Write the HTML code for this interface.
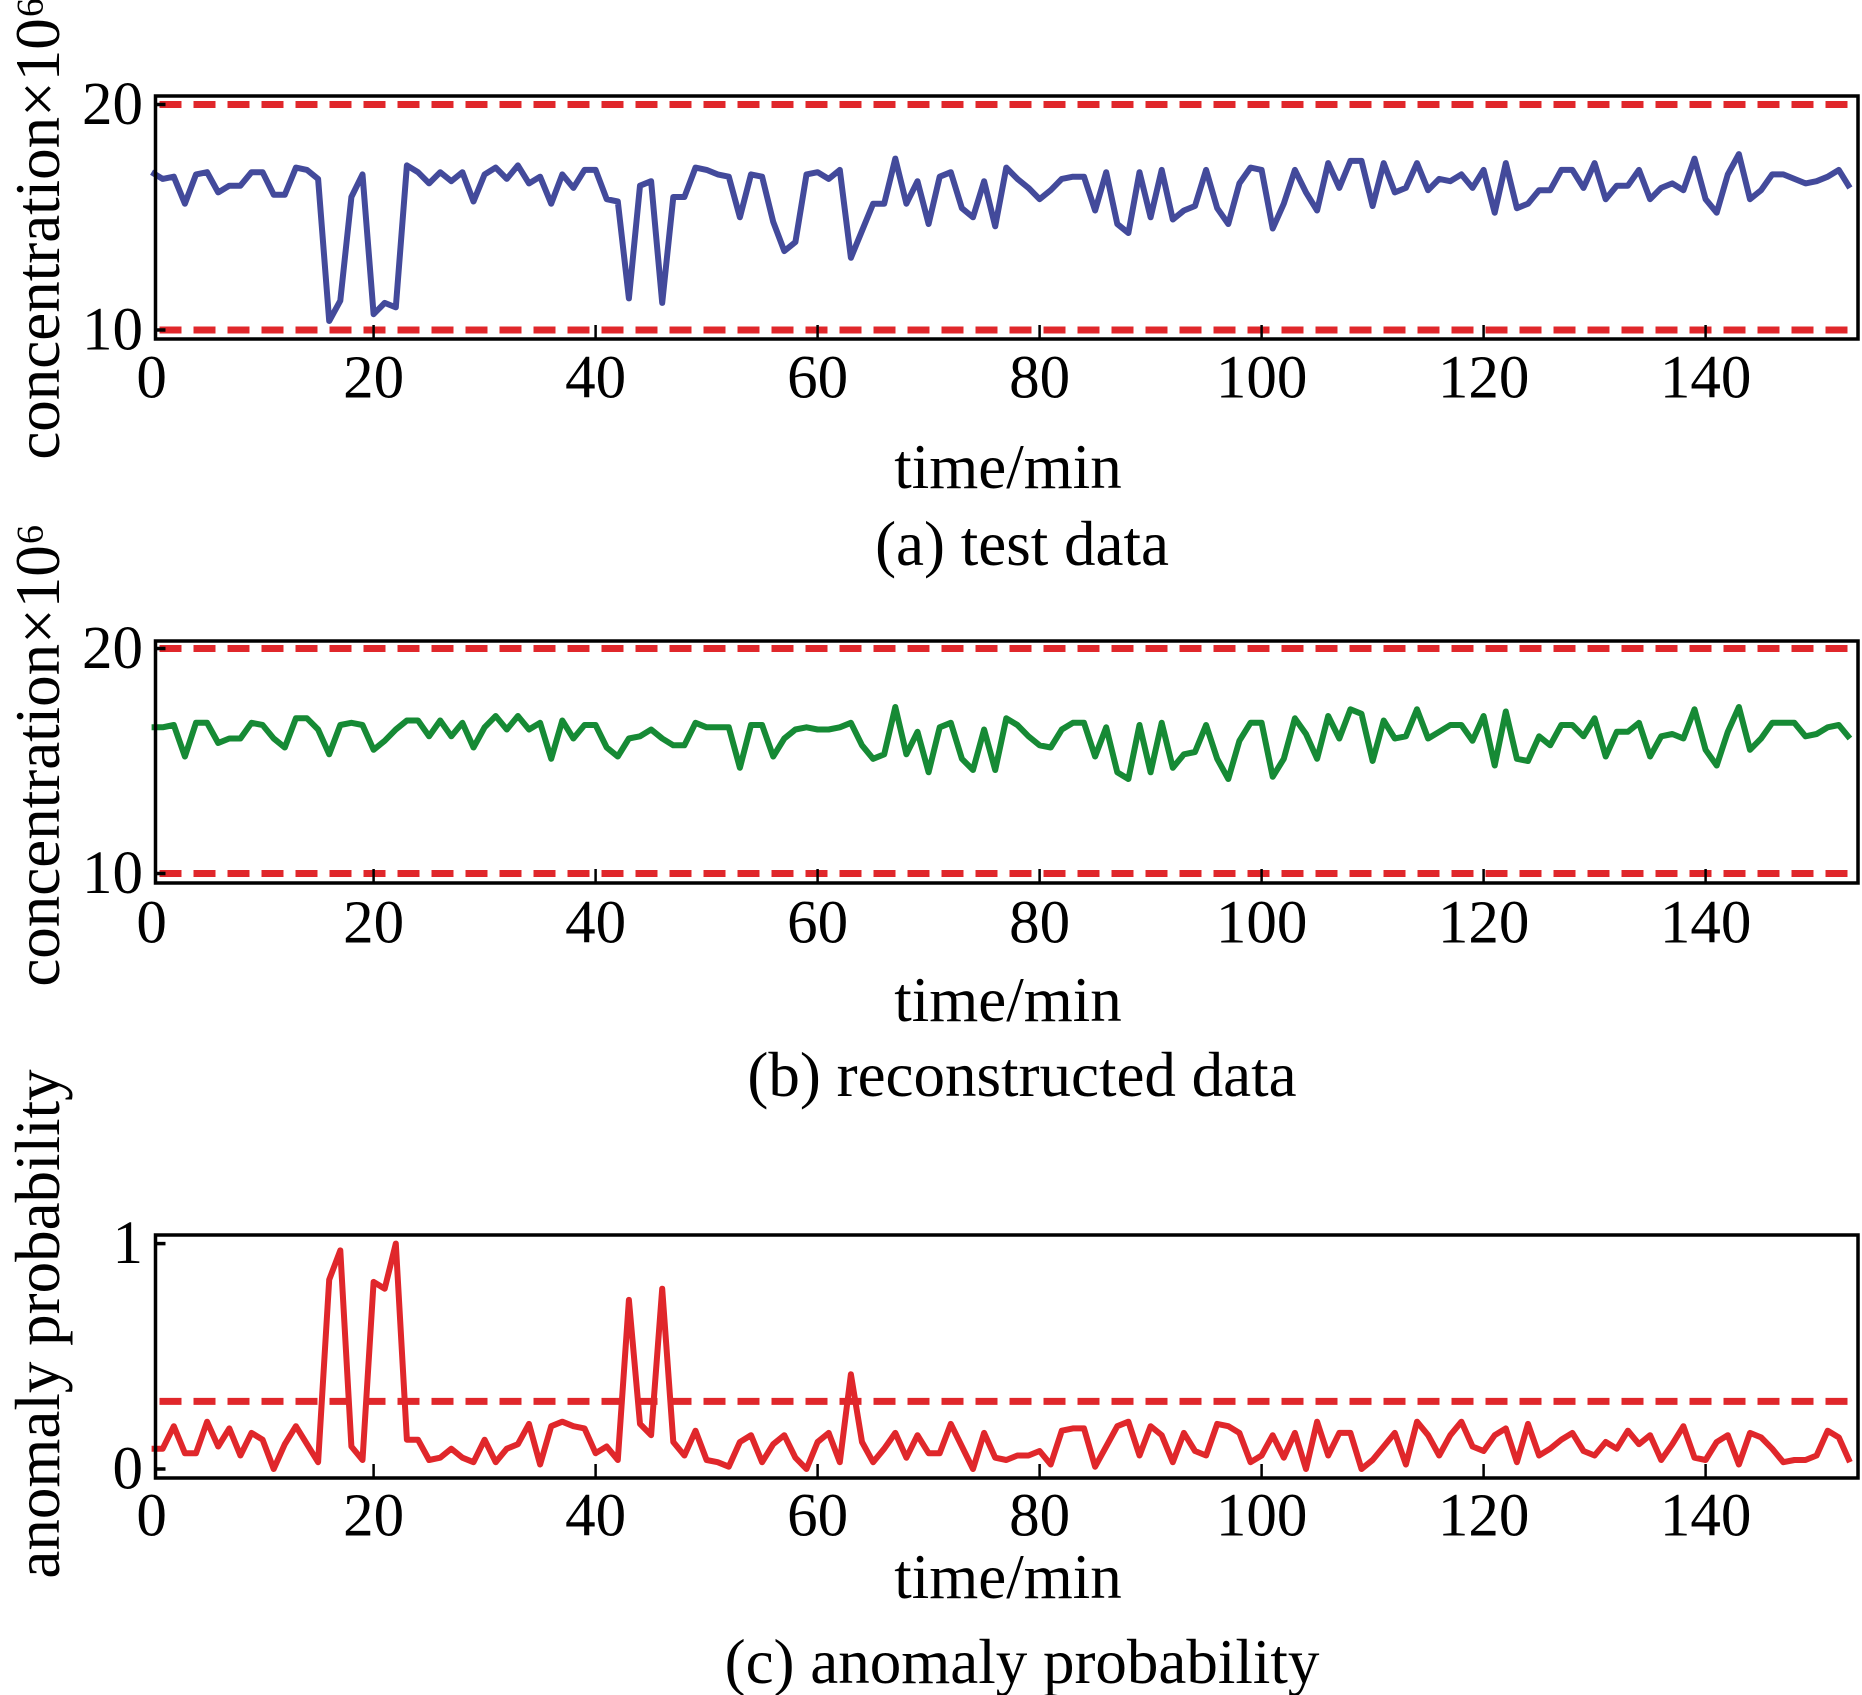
<!DOCTYPE html>
<html><head><meta charset="utf-8"><style>
html,body{margin:0;padding:0;background:#fff;}
svg{display:block;font-family:"Liberation Serif",serif;}
</style></head>
<body>
<svg id="chart" width="1862" height="1695" viewBox="0 0 1862 1695" xmlns="http://www.w3.org/2000/svg"></svg>
<script>
const timeTicks = [0,20,40,60,80,100,120,140];
const testData = [17.0,16.7,16.8,15.6,16.9,17.0,16.1,16.4,16.4,17.0,17.0,16.0,16.0,17.2,17.1,16.7,10.4,11.3,15.9,16.9,10.7,11.2,11.0,17.3,17.0,16.5,17.0,16.6,17.0,15.7,16.9,17.2,16.7,17.3,16.5,16.8,15.6,16.9,16.3,17.1,17.1,15.8,15.7,11.4,16.4,16.6,11.2,15.9,15.9,17.2,17.1,16.9,16.8,15.0,16.9,16.8,14.8,13.5,13.9,16.9,17.0,16.7,17.1,13.2,14.4,15.6,15.6,17.6,15.6,16.6,14.7,16.8,17.0,15.4,15.0,16.6,14.6,17.2,16.7,16.3,15.8,16.2,16.7,16.8,16.8,15.3,17.0,14.7,14.3,17.0,15.0,17.1,14.9,15.3,15.5,17.1,15.4,14.7,16.5,17.2,17.1,14.5,15.6,17.1,16.1,15.3,17.4,16.3,17.5,17.5,15.5,17.4,16.1,16.3,17.4,16.2,16.7,16.6,16.9,16.3,17.1,15.2,17.4,15.4,15.6,16.2,16.2,17.1,17.1,16.3,17.4,15.8,16.4,16.4,17.1,15.8,16.3,16.5,16.2,17.6,15.8,15.2,16.9,17.8,15.8,16.2,16.9,16.9,16.7,16.5,16.6,16.8,17.1,16.3];
const reconData = [16.5,16.5,16.6,15.2,16.7,16.7,15.8,16.0,16.0,16.7,16.6,16.0,15.6,16.9,16.9,16.4,15.3,16.6,16.7,16.6,15.5,15.9,16.4,16.8,16.8,16.1,16.8,16.1,16.7,15.6,16.5,17.0,16.4,17.0,16.4,16.7,15.1,16.8,16.0,16.6,16.6,15.6,15.2,16.0,16.1,16.4,16.0,15.7,15.7,16.7,16.5,16.5,16.5,14.7,16.6,16.6,15.2,16.0,16.4,16.5,16.4,16.4,16.5,16.7,15.7,15.1,15.3,17.4,15.3,16.3,14.5,16.5,16.7,15.1,14.6,16.4,14.6,16.9,16.6,16.1,15.7,15.6,16.4,16.7,16.7,15.2,16.5,14.5,14.2,16.6,14.5,16.7,14.7,15.3,15.4,16.6,15.1,14.2,15.9,16.7,16.7,14.3,15.1,16.9,16.2,15.1,17.0,16.0,17.3,17.1,15.0,16.8,16.0,16.1,17.3,16.0,16.3,16.6,16.6,15.9,17.0,14.8,17.2,15.1,15.0,16.1,15.7,16.6,16.6,16.1,16.9,15.2,16.3,16.3,16.7,15.2,16.1,16.2,16.0,17.3,15.5,14.8,16.3,17.4,15.5,16.0,16.7,16.7,16.7,16.1,16.2,16.5,16.6,16.0];
const anomalyProb = [0.09,0.09,0.19,0.07,0.07,0.21,0.10,0.18,0.06,0.16,0.13,0.00,0.11,0.19,0.11,0.03,0.84,0.97,0.10,0.04,0.83,0.80,1.00,0.13,0.13,0.04,0.05,0.09,0.05,0.03,0.13,0.03,0.09,0.11,0.20,0.02,0.19,0.21,0.19,0.18,0.07,0.10,0.04,0.75,0.20,0.15,0.80,0.12,0.06,0.17,0.04,0.03,0.01,0.12,0.15,0.03,0.11,0.15,0.05,0.00,0.12,0.16,0.03,0.42,0.12,0.03,0.09,0.16,0.05,0.15,0.07,0.07,0.20,0.10,0.00,0.16,0.05,0.04,0.06,0.06,0.08,0.02,0.17,0.18,0.18,0.01,0.10,0.19,0.21,0.06,0.19,0.15,0.03,0.16,0.08,0.06,0.20,0.19,0.16,0.03,0.06,0.15,0.05,0.16,0.00,0.21,0.06,0.16,0.16,0.00,0.04,0.10,0.16,0.02,0.21,0.15,0.06,0.15,0.21,0.10,0.08,0.15,0.18,0.03,0.20,0.06,0.09,0.13,0.16,0.08,0.06,0.12,0.09,0.17,0.11,0.15,0.04,0.11,0.19,0.05,0.04,0.12,0.15,0.02,0.16,0.14,0.09,0.03,0.04,0.04,0.06,0.17,0.14,0.03];
const concLimits = [10,20];
const probThreshold = [0.3];

const svg = document.getElementById('chart');
const NS = 'http://www.w3.org/2000/svg';
function mk(tag, attrs, parent){const e=document.createElementNS(NS,tag);for(const k in attrs)e.setAttribute(k,attrs[k]);(parent||svg).appendChild(e);return e;}
const X0=151.6, XU=11.1, FL=155.5, FR=1858;
const xs = v => X0 + v*XU;

function panel(cfg){
  const g = mk('g',{});
  
  
  const ys = v => cfg.yA + (v - cfg.vA)*(cfg.yB - cfg.yA)/(cfg.vB - cfg.vA);
  cfg.dashVals.forEach(v=>{
    const l = mk('line',{x1:FL+4,x2:FR-4,y1:ys(v),y2:ys(v),stroke:'#e0272b','stroke-width':7,'stroke-dasharray':'22 12'},g);
    
    
  });
  const pts = cfg.data.map((v,i)=>xs(i).toFixed(1)+','+ys(v).toFixed(1)).join(' ');
  const pl = mk('polyline',{points:pts,fill:'none',stroke:cfg.color,'stroke-width':6,'stroke-linejoin':'round'},g);
  
  
  const fr = mk('rect',{x:FL,y:cfg.top,width:FR-FL,height:cfg.bot-cfg.top,fill:'none',stroke:'#000','stroke-width':3.5},g);
  
  
  timeTicks.forEach(t=>{
    if(t>0) mk('line',{x1:xs(t),x2:xs(t),y1:cfg.bot,y2:cfg.bot-14,stroke:'#000','stroke-width':2.5},g);
    const tx = mk('text',{x:xs(t),y:cfg.tickY,'font-size':61,'text-anchor':'middle','dominant-baseline':'central'},g);
    tx.textContent = t;
    
    
  });
  cfg.yTicks.forEach(v=>{
    mk('line',{x1:FL,x2:FL+10,y1:ys(v),y2:ys(v),stroke:'#000','stroke-width':3.5},g);
    const tx = mk('text',{x:143,y:ys(v),'font-size':61,'text-anchor':'end','dominant-baseline':'central'},g);
    tx.textContent = v;
    
    
  });
  const xt = mk('text',{x:1008,y:cfg.xTitleY,'font-size':63,'text-anchor':'middle','dominant-baseline':'central'},g);
  xt.textContent = 'time/min';
  
  
  const cap = mk('text',{x:1022,y:cfg.capY,'font-size':63,'text-anchor':'middle','dominant-baseline':'central'},g);
  cap.textContent = cfg.caption;
  
  
  const yt = mk('text',{x:0,y:0,'font-size':63,'text-anchor':'middle','dominant-baseline':'central',transform:'translate(38,'+cfg.yTitleY+') rotate(-90)'},g);
  yt.textContent = cfg.yTitle;
  
  
}

panel({name:'panel-test-data',seriesName:'test-data-line',data:testData,color:'#434a9b',top:96,bot:339,yA:330,vA:10,yB:104.5,vB:20,dashVals:concLimits,yTicks:[10,20],tickY:378,xTitleY:467,capY:544,caption:'(a) test data',yTitle:'concentration×10⁶',yTitleY:228});
panel({name:'panel-reconstructed-data',seriesName:'reconstructed-data-line',data:reconData,color:'#168a35',top:641,bot:883,yA:873.5,vA:10,yB:648.5,vB:20,dashVals:concLimits,yTicks:[10,20],tickY:923,xTitleY:1000,capY:1075,caption:'(b) reconstructed data',yTitle:'concentration×10⁶',yTitleY:755});
panel({name:'panel-anomaly-probability',seriesName:'anomaly-probability-line',data:anomalyProb,color:'#e0272b',top:1235,bot:1478,yA:1469,vA:0,yB:1243.6,vB:1,dashVals:probThreshold,yTicks:[0,1],tickY:1516,xTitleY:1577,capY:1662,caption:'(c) anomaly probability',yTitle:'anomaly probability',yTitleY:1324});
</script>
</body></html>
